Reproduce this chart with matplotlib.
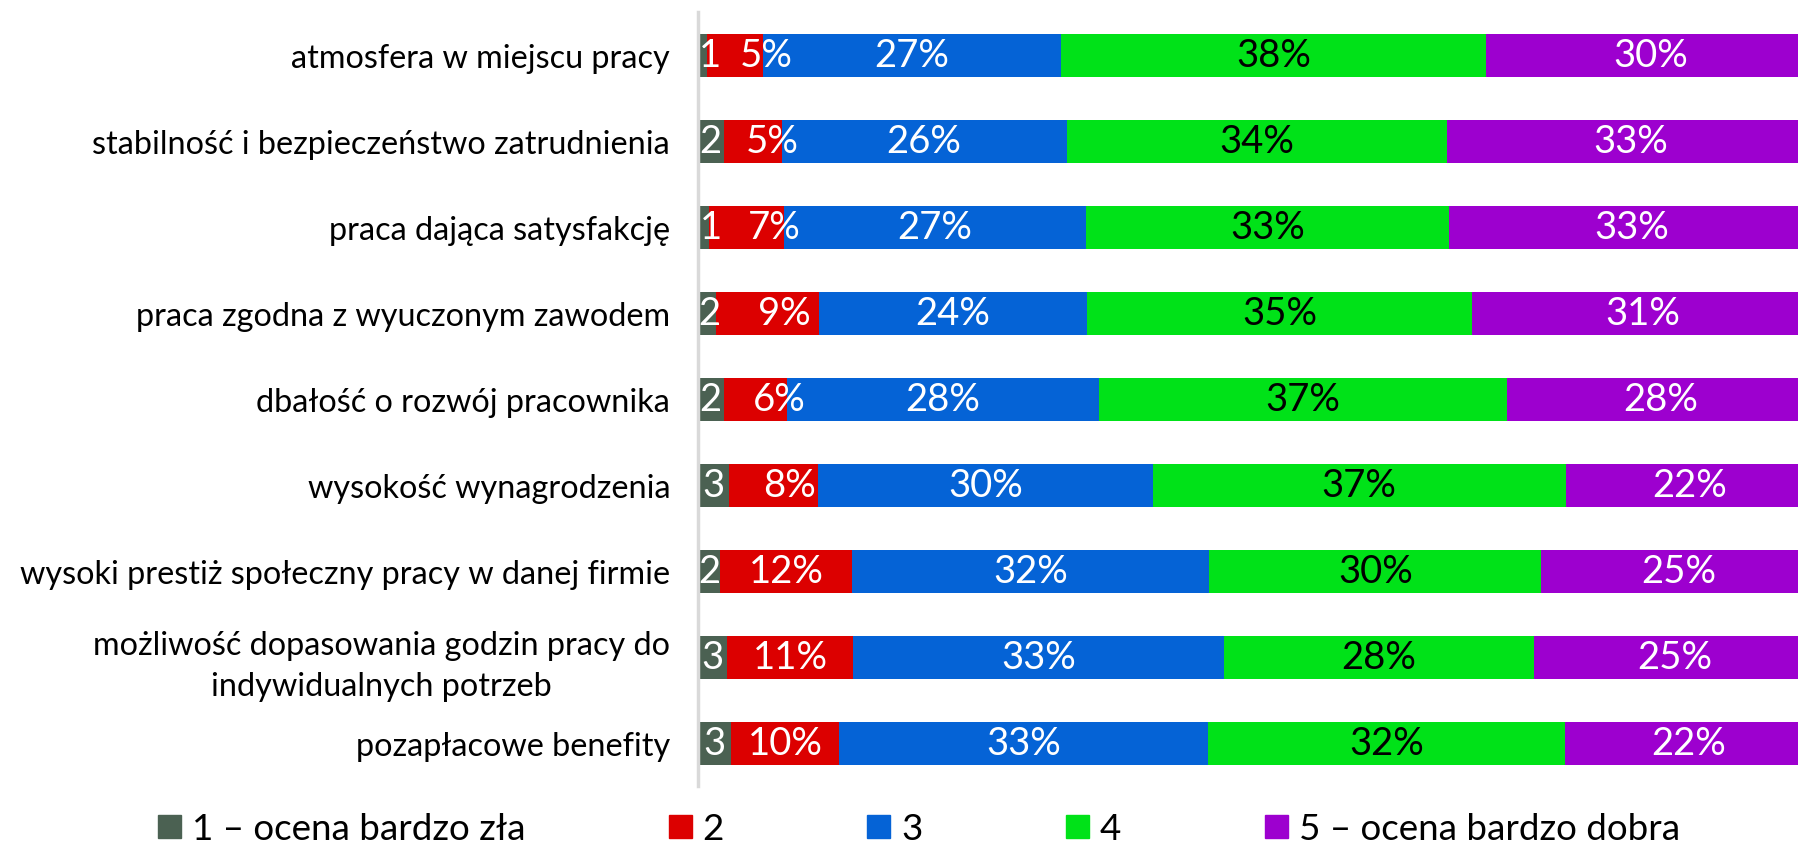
import matplotlib.pyplot as plt
from matplotlib.patches import Patch

plt.rcParams['font.family'] = ['Lato', 'DejaVu Sans']

# Dane
kategorie = [
    'atmosfera w miejscu pracy',
    'stabilność i bezpieczeństwo zatrudnienia',
    'praca dająca satysfakcję',
    'praca zgodna z wyuczonym zawodem',
    'dbałość o rozwój pracownika',
    'wysokość wynagrodzenia',
    'wysoki prestiż społeczny pracy w danej firmie',
    'możliwość dopasowania godzin pracy do\nindywidualnych potrzeb',
    'pozapłacowe benefity',
]
ocena_1 = [0.8, 2.3, 1.0, 1.6, 2.3, 2.8, 2.0, 2.6, 3.0]
ocena_2 = [5.0, 5.2, 6.7, 9.3, 5.7, 8.0, 11.8, 11.3, 9.7]
ocena_3 = [26.8, 25.6, 27.1, 24.0, 28.0, 30.0, 32.1, 33.3, 33.1]
ocena_4 = [38.1, 34.1, 32.6, 34.6, 36.6, 37.1, 29.8, 27.8, 32.0]
ocena_5 = [29.6, 33.0, 32.8, 30.7, 27.6, 22.2, 24.6, 25.3, 22.3]
legenda = ['1 – ocena bardzo zła', '2', '3', '4', '5 – ocena bardzo dobra']

kolory = ['#4B6152', '#DC0000', '#0563D6', '#00E218', '#9D00CF']
kolor_tekstu = ['white', 'white', 'white', 'black', 'white']
# przesunięcia etykiet (w % osi) jak w oryginale
przesun_1 = [0.7, 0, 0.7, 0.25, 0, 0, 0, 0, 0]
przesun_2 = [2.8, 1.8, 2.5, 1.5, 2.1, 1.4, 0, 0, 0]

serie = [ocena_1, ocena_2, ocena_3, ocena_4, ocena_5]
przesun = [przesun_1, przesun_2, [0] * 9, [0] * 9, [0] * 9]

fig = plt.figure(figsize=(17.98, 8.45), dpi=100)
ax = fig.add_axes([698 / 1798, 58 / 845, 1114 / 1798, 774 / 845])

y = list(range(len(kategorie)))
lewo = [0] * len(kategorie)
for k, s in enumerate(serie):
    ax.barh(y, s, left=lewo, height=0.5, color=kolory[k], linewidth=0)
    for i, v in enumerate(s):
        txt = str(int(v + 0.5)) if k == 0 else f'{int(v + 0.5)}%'
        ax.text(lewo[i] + v / 2 + przesun[k][i], i, txt, ha='center', va='center',
                color=kolor_tekstu[k], fontsize=27.5)
    lewo = [a + b for a, b in zip(lewo, s)]

ax.set_xlim(0, 100)
ax.set_ylim(len(kategorie) - 0.5, -0.5)
ax.set_yticks(y)
ax.set_yticklabels(kategorie, fontsize=23.3, multialignment='center')
for lbl in ax.get_yticklabels():
    lbl.set_linespacing(1.45)
ax.tick_params(axis='y', length=0, pad=20)
ax.set_xticks([])
for side in ['top', 'right', 'bottom']:
    ax.spines[side].set_visible(False)
ax.spines['left'].set_color('#d9d9d9')
ax.spines['left'].set_linewidth(2.5)

uchwyty = [Patch(color=c) for c in kolory]
fig.legend(uchwyty, legenda, loc='center', bbox_to_anchor=(0.511, 1 - 830 / 845),
           ncol=5, frameon=False, fontsize=26.5, handlelength=0.62, handleheight=0.62,
           handletextpad=0.3, columnspacing=3.9, borderpad=0, borderaxespad=0)

fig.savefig('out.png', dpi=100)
